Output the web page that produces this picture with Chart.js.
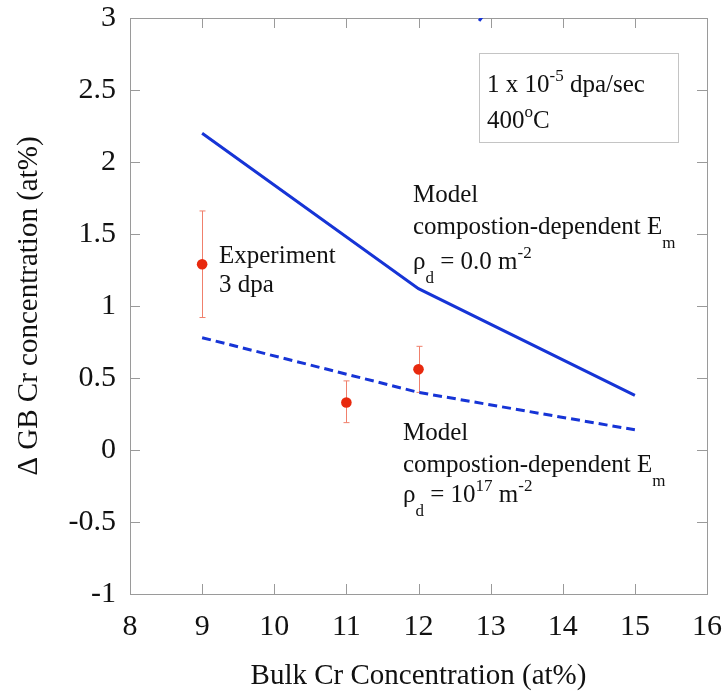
<!DOCTYPE html>
<html>
<head>
<meta charset="utf-8">
<script src="https://cdn.jsdelivr.net/npm/chart.js@4"></script>
<style>
  html, body { margin: 0; padding: 0; background: #fff; }
  #wrap { width: 724px; height: 696px; }
</style>
</head>
<body>
<div id="wrap"><canvas id="chart" width="724" height="696"></canvas></div>
<script>
// model curves (bulk Cr at%)
const modelX = [9, 12, 15];
const modelNoDisloc = [2.2, 1.12, 0.38];   // rho_d = 0
const modelDisloc = [0.78, 0.40, 0.14];    // rho_d = 1e17
// experiment, 3 dpa
const expX = [9, 11, 12];
const expY = [1.29, 0.33, 0.56];
const expLow = [0.92, 0.19, 0.40];
const expHigh = [1.66, 0.48, 0.72];
// small stray piece of curve at the top edge
const stubX = [12.84, 12.9];
const stubY = [2.98, 3.02];
// ticks
const xTicks = [8, 9, 10, 11, 12, 13, 14, 15, 16];
const yTicks = [-1, -0.5, 0, 0.5, 1, 1.5, 2, 2.5, 3];

const FONT = '"Liberation Serif", "DejaVu Serif", serif';
const BLUE = '#1634d6';
const RED = '#e8290e';
const ERR = '#f0806c';
const FRAME = '#9a9a9a';

const pts = (xs, ys) => xs.map((x, i) => ({x: x, y: ys[i]}));

// rich text: parts = [[text, 'n'|'sup'|'sub'], ...]
function drawRich(ctx, x, y, parts, size) {
    let cx = x;
    parts.forEach(p => {
        let s = size, dy = 0;
        if (p[1] === 'sup') { s = size * 0.68; dy = -size * 0.44; }
        if (p[1] === 'sub') { s = size * 0.68; dy = size * 0.56; }
        ctx.font = s + 'px ' + FONT;
        ctx.fillText(p[0], cx, y + dy);
        cx += ctx.measureText(p[0]).width;
    });
}

const decor = {
    id: 'decor',
    beforeDatasetsDraw(chart) {
        const {ctx, chartArea: a, scales: {x, y}} = chart;
        ctx.save();
        ctx.strokeStyle = FRAME;
        ctx.lineWidth = 1;
        ctx.strokeRect(a.left + 0.5, a.top + 0.5, a.right - a.left, a.bottom - a.top);
        const tl = 10;
        ctx.beginPath();
        xTicks.forEach(v => {
            const px = Math.round(x.getPixelForValue(v)) + 0.5;
            ctx.moveTo(px, a.bottom); ctx.lineTo(px, a.bottom - tl);
            ctx.moveTo(px, a.top); ctx.lineTo(px, a.top + tl);
        });
        yTicks.forEach(v => {
            const py = Math.round(y.getPixelForValue(v)) + 0.5;
            ctx.moveTo(a.left, py); ctx.lineTo(a.left + tl, py);
            ctx.moveTo(a.right, py); ctx.lineTo(a.right - tl, py);
        });
        ctx.stroke();

        // error bars
        ctx.strokeStyle = ERR;
        ctx.beginPath();
        expX.forEach((v, i) => {
            const px = Math.round(x.getPixelForValue(v)) + 0.5;
            const lo = y.getPixelForValue(expLow[i]);
            const hi = y.getPixelForValue(expHigh[i]);
            ctx.moveTo(px, lo); ctx.lineTo(px, hi);
            ctx.moveTo(px - 3, lo); ctx.lineTo(px + 3, lo);
            ctx.moveTo(px - 3, hi); ctx.lineTo(px + 3, hi);
        });
        ctx.stroke();

        // condition box
        const bl = x.getPixelForValue(12.84), br = x.getPixelForValue(15.6);
        const bt = y.getPixelForValue(2.757), bb = y.getPixelForValue(2.139);
        ctx.strokeStyle = '#c4c4c4';
        ctx.strokeRect(Math.round(bl) + 0.5, Math.round(bt) + 0.5, Math.round(br - bl), Math.round(bb - bt));
        ctx.restore();
    },
    afterDatasetsDraw(chart) {
        const {ctx, scales: {x, y}} = chart;
        ctx.save();
        ctx.fillStyle = '#111';
        ctx.textBaseline = 'alphabetic';
        const at = (vx, vy, parts, size) => drawRich(ctx, x.getPixelForValue(vx), y.getPixelForValue(vy), parts, size || 25);

        at(12.95, 2.486, [['1 x 10', 'n'], ['-5', 'sup'], [' dpa/sec', 'n']]);
        at(12.95, 2.236, [['400', 'n'], ['o', 'sup'], ['C', 'n']]);

        at(9.234, 1.299, [['Experiment', 'n']]);
        at(9.234, 1.097, [['3 dpa', 'n']]);

        at(11.924, 1.722, [['Model', 'n']]);
        at(11.924, 1.5, [['compostion-dependent E', 'n'], ['m', 'sub']]);
        at(11.924, 1.257, [['\u03c1', 'n'], ['d', 'sub'], [' = 0.0 m', 'n'], ['-2', 'sup']]);

        at(11.785, 0.069, [['Model', 'n']]);
        at(11.785, -0.153, [['compostion-dependent E', 'n'], ['m', 'sub']]);
        at(11.785, -0.361, [['\u03c1', 'n'], ['d', 'sub'], [' = 10', 'n'], ['17', 'sup'], [' m', 'n'], ['-2', 'sup']]);
        ctx.restore();
    }
};

new Chart(document.getElementById('chart'), {
    type: 'line',
    data: {
        datasets: [
            {
                data: pts(modelX, modelNoDisloc),
                borderColor: BLUE, borderWidth: 3, pointRadius: 0, fill: false, tension: 0
            },
            {
                data: pts(modelX, modelDisloc),
                borderColor: BLUE, borderWidth: 3, borderDash: [9, 5], pointRadius: 0, fill: false, tension: 0
            },
            {
                data: pts(stubX, stubY),
                borderColor: BLUE, borderWidth: 3, pointRadius: 0, fill: false
            },
            {
                data: pts(expX, expY),
                showLine: false, pointRadius: 5.3, pointBackgroundColor: RED, pointBorderColor: RED, pointBorderWidth: 0
            }
        ]
    },
    options: {
        responsive: false,
        animation: false,
        layout: { padding: { left: 0, top: 18, right: 17, bottom: 0 } },
        plugins: { legend: { display: false }, tooltip: { enabled: false } },
        scales: {
            x: {
                type: 'linear', min: 8, max: 16,
                afterBuildTicks: s => { s.ticks = xTicks.map(v => ({value: v})); },
                afterFit: s => { s.height = 102; s.paddingLeft = 0; s.paddingRight = 0; },
                grid: { display: false, drawTicks: false },
                border: { display: false },
                ticks: { color: '#111', padding: 15, font: { family: FONT, size: 30 }, callback: v => String(v) },
                title: { display: true, text: 'Bulk Cr Concentration (at%)', color: '#111', font: { family: FONT, size: 29 }, padding: { top: 0, bottom: 2 } }
            },
            y: {
                type: 'linear', min: -1, max: 3,
                afterBuildTicks: s => { s.ticks = yTicks.map(v => ({value: v})); },
                afterFit: s => { s.width = 130; s.paddingTop = 0; s.paddingBottom = 0; },
                grid: { display: false, drawTicks: false },
                border: { display: false },
                ticks: { color: '#111', padding: 14, font: { family: FONT, size: 30 }, callback: v => String(v) },
                title: { display: true, text: '\u0394 GB Cr concentration (at%)', color: '#111', font: { family: FONT, size: 29 }, padding: { top: 12, bottom: 0 } }
            }
        }
    },
    plugins: [decor]
});
</script>
</body>
</html>
